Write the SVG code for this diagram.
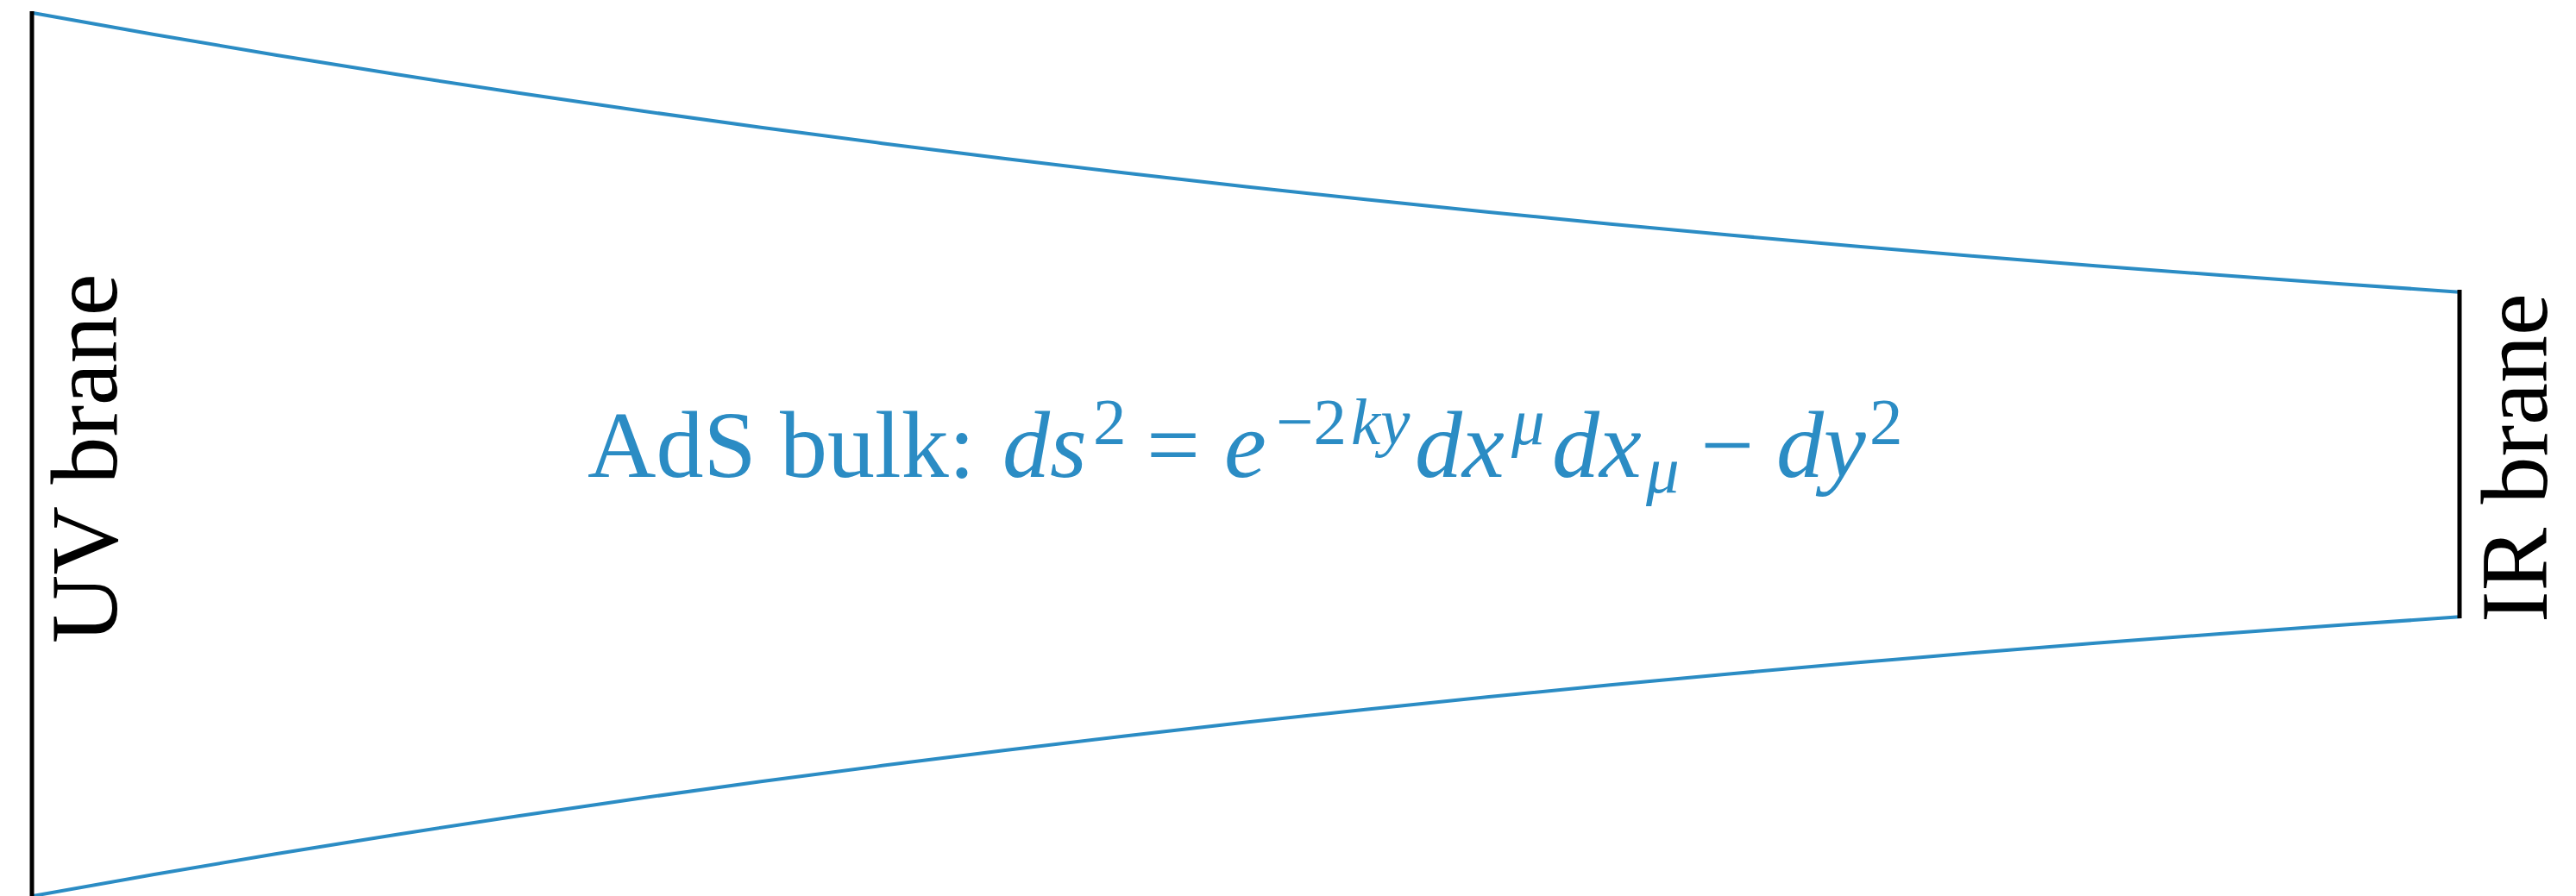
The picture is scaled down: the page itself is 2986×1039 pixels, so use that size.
<svg xmlns="http://www.w3.org/2000/svg" width="2986" height="1039" viewBox="0 0 2986 1039">
<style>
.brane{stroke:#000;stroke-width:5;fill:none}
.bound{stroke:#2b8cc4;stroke-width:4;fill:none;stroke-linejoin:round;stroke-linecap:round}
.lbl{font-family:"Liberation Serif","Times New Roman",serif;font-size:110px;fill:#000}
.eq{font-family:"Liberation Serif","Times New Roman",serif;font-size:110px;fill:#2b8cc4}
.it{font-style:italic}
.sm{font-size:77px}
</style>
<rect width="2986" height="1039" fill="#fff"/>
<g id="bulk-boundary">
<polyline class="bound" points="38,15 178.65,39.97 319.3,63.72 459.95,86.32 600.6,107.81 741.25,128.25 881.9,147.7 1022.55,166.2 1163.2,183.8 1303.85,200.53 1444.5,216.46 1585.15,231.6 1725.8,246.01 1866.45,259.71 2007.1,272.75 2147.75,285.15 2288.4,296.94 2429.05,308.16 2569.7,318.84 2710.35,328.99 2851,338.65"/>
<polyline class="bound" points="38,1039 178.65,1014.03 319.3,990.28 459.95,967.68 600.6,946.19 741.25,925.75 881.9,906.3 1022.55,887.8 1163.2,870.2 1303.85,853.47 1444.5,837.54 1585.15,822.4 1725.8,807.99 1866.45,794.29 2007.1,781.25 2147.75,768.85 2288.4,757.06 2429.05,745.84 2569.7,735.16 2710.35,725.01 2851,715.35"/>
</g>
<g id="uv-brane">
<line class="brane" x1="37" y1="13" x2="37" y2="1039"/>
<text class="lbl" transform="translate(135,746) rotate(-90)">UV brane</text>
</g>
<g id="ir-brane">
<line class="brane" x1="2851" y1="336" x2="2851" y2="717"/>
<text class="lbl" transform="translate(2952,722) rotate(-90)">IR brane</text>
</g>
<g id="bulk">
<text class="eq" x="681" y="553">AdS bulk:</text>
<text class="eq it" x="1162" y="553">ds</text>
<text class="eq sm" x="1267" y="515">2</text>
<text class="eq" x="1329" y="553">=</text>
<text class="eq it" x="1419" y="553">e</text>
<text class="eq sm" x="1479" y="515">−2</text>
<text class="eq sm it" x="1566" y="515">ky</text>
<text class="eq it" x="1640" y="553">dx</text>
<text class="eq sm it" x="1752" y="515">μ</text>
<text class="eq it" x="1799" y="553">dx</text>
<text class="eq sm it" x="1908" y="571">μ</text>
<text class="eq" x="1971" y="553">−</text>
<text class="eq it" x="2059" y="553">dy</text>
<text class="eq sm" x="2167" y="515">2</text>
</g>
</svg>
